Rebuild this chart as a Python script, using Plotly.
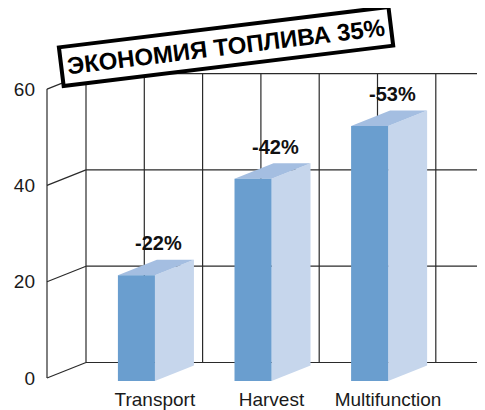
import plotly.graph_objects as go

# ---- data ----
categories = ["Transport", "Harvest", "Multifunction"]
values = [22, 42, 53]
value_labels = ["-22%", "-42%", "-53%"]
y_ticks = [0, 20, 40, 60]
title_text = "ЭКОНОМИЯ ТОПЛИВА 35%"

# ---- geometry / style ----
PX_PER_X = 58.3
PX_PER_V = 4.815
DX = 39 / PX_PER_X          # x shift per unit depth
DV = 15.5 / PX_PER_V        # value shift per unit depth (upwards)
N_GRID = 8
BAR_LEFT = -0.15
BAR_W = 0.635
Z0, Z1 = -0.2, 0.8
C_FRONT = "#6a9ecf"
C_SIDE = "#c6d6ec"
C_TOP = "#a4bee1"
GRID_C = "#2a2a2a"
TICK_FONT = "Liberation Sans, Arial, sans-serif"

cat_x = [1.5 + 2 * i for i in range(len(categories))]


def proj(x, v, z):
    return x + DX * z, v + DV * z


fig = go.Figure()

gx, gy = [], []


def seg(p, q):
    gx.extend([p[0], q[0], None])
    gy.extend([p[1], q[1], None])


vmax = max(y_ticks)
for v in y_ticks:
    seg(proj(0, v, 1), proj(N_GRID + 1, v, 1))   # back horizontal
    seg(proj(0, v, 0), proj(0, v, 1))            # left wall diagonal
for k in range(N_GRID):
    seg(proj(k, 0, 1), proj(k, vmax, 1))         # back verticals
seg(proj(0, 0, 0), proj(0, vmax, 0))             # front axis

fig.add_trace(go.Scatter(x=gx, y=gy, mode="lines",
                         line=dict(color=GRID_C, width=1.2),
                         hoverinfo="skip", showlegend=False))


def face(pts, color):
    xs = [p[0] for p in pts] + [pts[0][0]]
    ys = [p[1] for p in pts] + [pts[0][1]]
    fig.add_trace(go.Scatter(x=xs, y=ys, mode="lines", fill="toself",
                             fillcolor=color, line=dict(width=0, color=color),
                             hoverinfo="skip", showlegend=False))


for cx, val in zip(cat_x, values):
    x0 = cx + BAR_LEFT
    x1 = x0 + BAR_W
    face([proj(x1, 0, Z0), proj(x1, 0, Z1), proj(x1, val, Z1), proj(x1, val, Z0)], C_SIDE)
    face([proj(x0, val, Z0), proj(x1, val, Z0), proj(x1, val, Z1), proj(x0, val, Z1)], C_TOP)
    face([proj(x0, 0, Z0), proj(x1, 0, Z0), proj(x1, val, Z0), proj(x0, val, Z0)], C_FRONT)

annotations = []
for cx, val, lab in zip(cat_x, values, value_labels):
    annotations.append(dict(x=cx + 0.42, y=val + 6, text=lab, showarrow=False,
                            xanchor="center", yanchor="middle",
                            font=dict(family="Liberation Sans, Arial, sans-serif",
                                      size=20, color="#111", weight="bold")))

annotations.append(dict(xref="paper", yref="paper", x=0.418, y=1.043,
                        text=title_text, showarrow=False, textangle=-7,
                        xanchor="center", yanchor="middle",
                        font=dict(family="Liberation Sans, Arial, sans-serif",
                                  size=24, color="#000", weight="bold"),
                        bgcolor="white", bordercolor="black",
                        borderwidth=4, borderpad=4))

# page body has an 8px margin, so the figure is sized to fill the rest of the window
PAGE_OFF = 8
W, H = 485 - PAGE_OFF, 410 - PAGE_OFF
ML, MR, MT, MB = 40 - PAGE_OFF, 0, 60 - PAGE_OFF, 27
x_lo = -(47 - 40) / PX_PER_X
x_hi = x_lo + (W - ML - MR) / PX_PER_X
y_lo = -((410 - MB) - 378) / PX_PER_V
y_hi = y_lo + (H - MT - MB) / PX_PER_V

fig.update_layout(
    width=W, height=H,
    margin=dict(l=ML, r=MR, t=MT, b=MB, autoexpand=False),
    paper_bgcolor="white", plot_bgcolor="white",
    annotations=annotations,
    xaxis=dict(range=[x_lo, x_hi], showgrid=False, zeroline=False, showline=False,
               tickmode="array", tickvals=[c + 0.35 for c in cat_x], ticktext=categories,
               ticks="", ticklabelstandoff=3,
               tickfont=dict(family=TICK_FONT, size=19, color="#1a1a1a"), fixedrange=True),
    yaxis=dict(range=[y_lo, y_hi], showgrid=False, zeroline=False, showline=False,
               tickmode="array", tickvals=y_ticks, ticks="", ticklabelstandoff=4,
               tickfont=dict(family=TICK_FONT, size=19, color="#1a1a1a"), fixedrange=True),
)

fig.write_html("out.html")
